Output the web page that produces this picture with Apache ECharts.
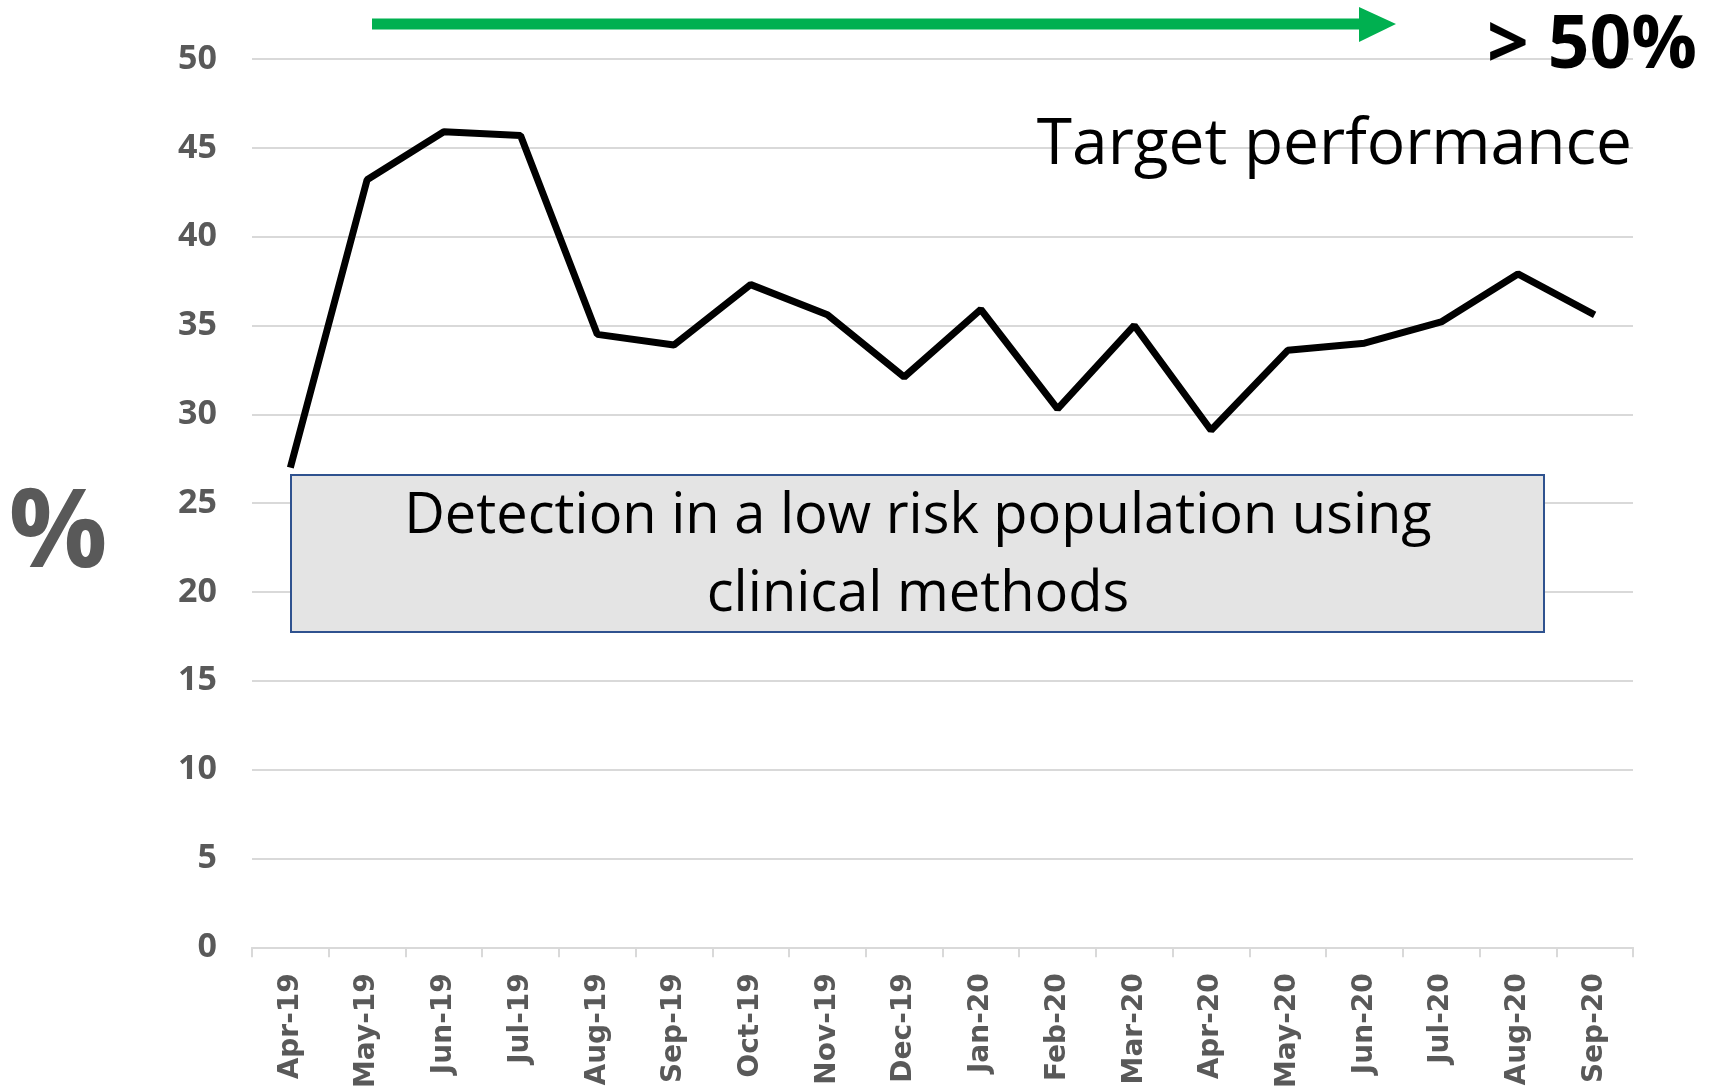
<!DOCTYPE html>
<html>
<head>
<meta charset="utf-8">
<script src="https://cdn.jsdelivr.net/npm/echarts@6/dist/echarts.min.js"></script>
<style>
  html, body { margin: 0; padding: 0; background: #fff; }
  #chart { width: 1717px; height: 1091px; }
</style>
</head>
<body>
<div id="chart"></div>
<script>
var months = ['Apr-19', 'May-19', 'Jun-19', 'Jul-19', 'Aug-19', 'Sep-19', 'Oct-19', 'Nov-19', 'Dec-19',
    'Jan-20', 'Feb-20', 'Mar-20', 'Apr-20', 'May-20', 'Jun-20', 'Jul-20', 'Aug-20', 'Sep-20'];
var detection = [27.0, 43.2, 45.9, 45.7, 34.5, 33.9, 37.3, 35.6, 32.1,
    35.9, 30.3, 35.0, 29.1, 33.6, 34.0, 35.2, 37.9, 35.6];
var targetLabel = '> 50%';
var targetText = 'Target performance';
var boxLines = ['Detection in a low risk population using', 'clinical methods'];

(function () {
    var myChart = echarts.init(document.getElementById('chart'));

    var option = {
        animation: false,
        grid: {
            left: 252,
            right: 84,
            top: 59,
            bottom: 141,
            containLabel: false
        },
        xAxis: {
            type: 'category',
            data: months,
            boundaryGap: true,
            axisLine: { lineStyle: { color: '#d9d9d9', width: 2 } },
            axisTick: { show: true, length: 10, lineStyle: { color: '#d9d9d9', width: 2 } },
            axisLabel: {
                rotate: 90,
                margin: 26,
                color: '#595959',
                fontFamily: 'DejaVu Sans',
                fontWeight: 'bold',
                fontSize: 28
            }
        },
        yAxis: {
            type: 'value',
            min: 0,
            max: 50,
            interval: 5,
            axisLine: { show: false },
            axisTick: { show: false },
            splitLine: { lineStyle: { color: '#d9d9d9', width: 2 } },
            axisLabel: {
                margin: 35,
                color: '#595959',
                fontFamily: 'Open Sans',
                fontWeight: 'bold',
                fontSize: 34
            }
        },
        series: [
            {
                type: 'line',
                data: detection,
                symbol: 'none',
                lineStyle: { color: '#000', width: 7 },
                z: 3
            }
        ],
        graphic: [
            // box with caption
            {
                type: 'rect',
                shape: { x: 291, y: 475, width: 1253, height: 157 },
                style: { fill: '#e4e4e4', stroke: '#2f528f', lineWidth: 2 },
                z: 10
            },
            {
                type: 'text',
                z: 11,
                style: {
                    text: boxLines[0], x: 918, y: 517,
                    align: 'center', verticalAlign: 'middle',
                    fontFamily: 'Open Sans', fontSize: 56, fill: '#000'
                }
            },
            {
                type: 'text',
                z: 11,
                style: {
                    text: boxLines[1], x: 918, y: 595,
                    align: 'center', verticalAlign: 'middle',
                    fontFamily: 'Open Sans', fontSize: 56, fill: '#000'
                }
            },
            // green arrow
            {
                type: 'line',
                shape: { x1: 372, y1: 24, x2: 1362, y2: 24 },
                style: { stroke: '#00b050', lineWidth: 11 },
                z: 10
            },
            {
                type: 'polygon',
                shape: { points: [[1359, 7], [1396, 24], [1359, 42]] },
                style: { fill: '#00b050' },
                z: 10
            },
            {
                type: 'text',
                z: 11,
                style: {
                    text: targetLabel, x: 1697, y: 47,
                    align: 'right', verticalAlign: 'middle',
                    fontFamily: 'Open Sans', fontWeight: 'bold', fontSize: 73, fill: '#000'
                }
            },
            {
                type: 'text',
                z: 11,
                style: {
                    text: targetText, x: 1632, y: 146,
                    align: 'right', verticalAlign: 'middle',
                    fontFamily: 'Open Sans', fontSize: 64, fill: '#000'
                }
            },
            // y axis name
            {
                type: 'text',
                z: 11,
                style: {
                    text: '%', x: 58, y: 536,
                    align: 'center', verticalAlign: 'middle',
                    fontFamily: 'Open Sans', fontWeight: 'bold', fontSize: 110, fill: '#595959'
                }
            }
        ]
    };

    myChart.setOption(option);
    window.addEventListener('resize', function () {
        myChart.resize();
    });
})();
</script>
</body>
</html>
